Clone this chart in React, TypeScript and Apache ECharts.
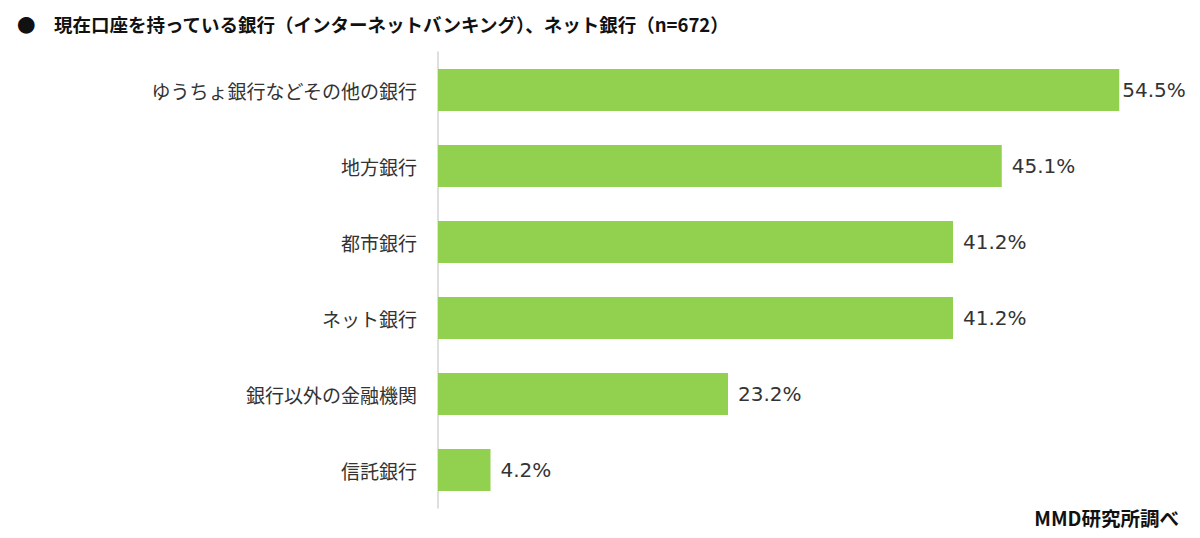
import React, { useEffect, useRef } from "react";
import * as echarts from "echarts";

const categories = [
  "ゆうちょ銀行などその他の銀行",
  "地方銀行",
  "都市銀行",
  "ネット銀行",
  "銀行以外の金融機関",
  "信託銀行",
];
const values = [54.5, 45.1, 41.2, 41.2, 23.2, 4.2];
const titleText = "●　現在口座を持っている銀行（インターネットバンキング）、ネット銀行（n=672）";
const sourceText = "MMD研究所調べ";

export default function App() {
  const ref = useRef<HTMLDivElement>(null);
  useEffect(() => {
    if (!ref.current) return;
    const chart = echarts.init(ref.current, null, { renderer: "svg" });
    chart.setOption({
      animation: false,
      backgroundColor: "#ffffff",
      title: [
        {
          text: titleText,
          left: 12,
          top: 10,
          textStyle: {
            fontFamily: "Noto Sans CJK JP",
            fontSize: 18.5,
            fontWeight: "bold",
            color: "#111111",
          },
        },
        {
          text: sourceText,
          right: 16,
          top: 503,
          textStyle: {
            fontFamily: "Noto Sans CJK JP",
            fontSize: 19.5,
            fontWeight: "bold",
            color: "#111111",
          },
        },
      ],
      grid: { left: 438, top: 52, width: 750, height: 456, containLabel: false },
      xAxis: {
        type: "value",
        min: 0,
        max: 60,
        show: false,
      },
      yAxis: {
        type: "category",
        inverse: true,
        data: categories,
        axisLine: { show: true, lineStyle: { color: "#d4d4d4", width: 1.5 } },
        axisTick: { show: false },
        axisLabel: {
          margin: 21,
          fontFamily: "Noto Sans CJK JP",
          fontSize: 19,
          color: "#333333",
        },
      },
      series: [
        {
          type: "bar",
          data: values.map((v, i) => ({
            value: v,
            label: { distance: i === 0 ? 3 : 10 },
          })),
          barWidth: 42,
          itemStyle: { color: "#92D050" },
          label: {
            show: true,
            position: "right",
            formatter: (p: any) => p.value.toFixed(1) + "%",
            fontFamily: "DejaVu Sans",
            fontSize: 20,
            color: "#333333",
          },
        },
      ],
    });
    return () => chart.dispose();
  }, []);
  return (
    <div
      ref={ref}
      style={{ position: "fixed", left: 0, top: 0, width: 1200, height: 538 }}
    />
  );
}
